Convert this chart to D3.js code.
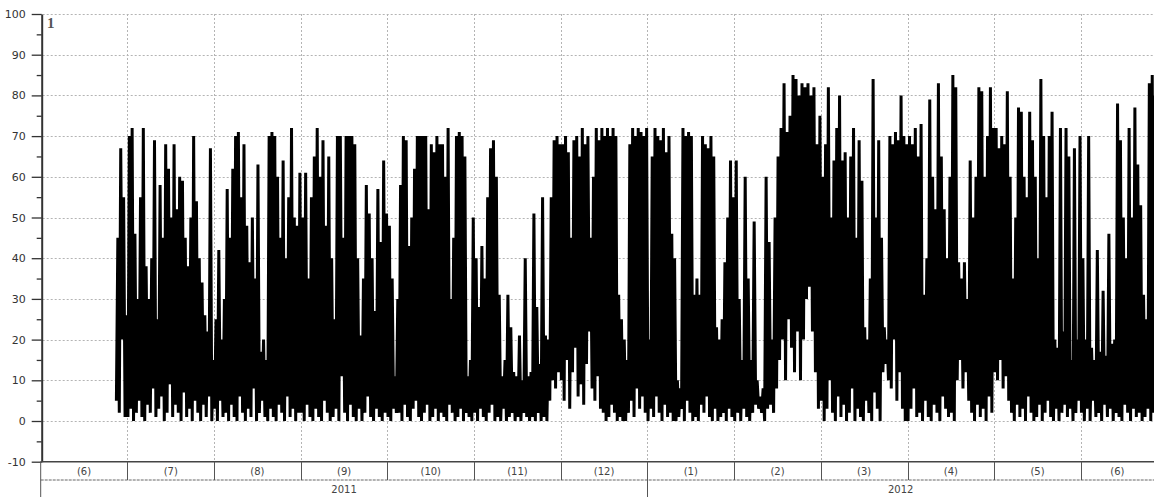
<!DOCTYPE html>
<html>
<head>
<meta charset="utf-8">
<script src="https://cdn.jsdelivr.net/npm/d3@7/dist/d3.min.js"></script>
<style>
  body { margin: 0; background: #fff; }
  svg { display: block; }
</style>
</head>
<body>
<svg id="chart" width="1154" height="497"></svg>
<script>
// Daily readings: one peak (hi) and one trough (lo) per day, month by month.
const jun11Hi = [45, 67, 55, 26];
const jun11Lo = [5, 2, 20, 1];
const jul11Hi = [70, 72, 46, 30, 55, 72, 38, 30, 40, 69, 25, 58, 45, 68, 62, 50, 68, 52, 60, 59, 45, 38, 50, 70, 54, 40, 34, 26, 22, 67, 15];
const jul11Lo = [1, 3, 0, 2, 5, 1, 0, 4, 2, 8, 1, 3, 6, 0, 2, 9, 1, 4, 2, 0, 7, 1, 3, 0, 5, 2, 0, 4, 1, 6, 0];
const aug11Hi = [25, 42, 20, 30, 57, 45, 62, 70, 71, 55, 68, 48, 39, 50, 35, 63, 17, 20, 15, 70, 71, 70, 60, 45, 64, 40, 55, 72, 50, 48, 61];
const aug11Lo = [3, 0, 5, 1, 2, 0, 4, 1, 0, 6, 2, 0, 3, 1, 8, 0, 2, 5, 1, 0, 3, 1, 0, 4, 2, 0, 6, 1, 3, 0, 2];
const sep11Hi = [50, 61, 35, 55, 65, 72, 60, 69, 48, 65, 40, 25, 70, 70, 45, 70, 70, 70, 68, 40, 21, 35, 58, 51, 40, 27, 57, 44, 64, 51];
const sep11Lo = [2, 0, 4, 1, 0, 3, 1, 0, 5, 2, 0, 1, 3, 0, 11, 2, 0, 4, 1, 0, 3, 0, 2, 6, 1, 0, 3, 1, 0, 2];
const oct11Hi = [48, 35, 11, 30, 58, 70, 69, 43, 50, 62, 70, 70, 70, 70, 52, 68, 66, 70, 68, 68, 60, 72, 30, 45, 70, 71, 70, 65, 11, 15, 50];
const oct11Lo = [1, 0, 3, 2, 2, 0, 4, 1, 0, 3, 5, 1, 0, 2, 4, 0, 1, 3, 0, 2, 1, 0, 4, 2, 0, 1, 3, 0, 2, 1, 0];
const nov11Hi = [40, 28, 43, 35, 55, 67, 69, 60, 31, 11, 15, 31, 23, 12, 11, 21, 10, 40, 11, 12, 51, 28, 14, 55, 21, 20, 55, 69, 70, 68];
const nov11Lo = [2, 0, 3, 1, 0, 2, 4, 0, 1, 0, 3, 0, 1, 2, 0, 1, 0, 2, 1, 0, 1, 0, 2, 0, 1, 0, 5, 10, 8, 12];
const dec11Hi = [68, 70, 66, 45, 69, 70, 65, 72, 68, 70, 45, 60, 72, 69, 72, 70, 72, 70, 72, 70, 31, 25, 20, 15, 68, 72, 70, 72, 71, 70, 72];
const dec11Lo = [10, 5, 15, 3, 12, 18, 6, 9, 4, 14, 22, 8, 5, 11, 3, 2, 0, 1, 4, 2, 0, 1, 0, 0, 2, 5, 1, 8, 3, 6, 2];
const jan12Hi = [20, 65, 72, 70, 69, 72, 66, 70, 46, 40, 10, 8, 72, 70, 71, 70, 31, 35, 31, 70, 68, 67, 70, 65, 23, 20, 25, 39, 50, 64, 55];
const jan12Lo = [0, 3, 1, 6, 2, 0, 4, 1, 2, 0, 0, 1, 3, 0, 5, 2, 0, 1, 0, 4, 2, 6, 1, 0, 3, 0, 1, 2, 0, 3, 1];
const feb12Hi = [64, 30, 15, 60, 35, 15, 49, 10, 6, 8, 60, 44, 20, 50, 65, 72, 83, 71, 75, 85, 84, 80, 83, 82, 83, 80, 82, 68, 75];
const feb12Lo = [0, 2, 0, 3, 1, 0, 2, 4, 3, 2, 0, 3, 4, 2, 8, 15, 20, 10, 25, 18, 12, 22, 10, 20, 30, 33, 22, 12, 3];
const mar12Hi = [60, 68, 82, 50, 64, 72, 80, 64, 66, 50, 65, 72, 45, 69, 59, 23, 20, 35, 84, 50, 69, 45, 23, 20, 70, 68, 71, 69, 80, 70, 68];
const mar12Lo = [5, 0, 3, 10, 2, 0, 6, 1, 4, 0, 2, 8, 0, 3, 1, 0, 5, 2, 0, 7, 3, 0, 12, 14, 10, 8, 20, 5, 12, 3, 0];
const apr12Hi = [70, 68, 72, 65, 73, 31, 40, 79, 60, 52, 83, 65, 52, 40, 60, 85, 82, 39, 35, 39, 30, 64, 50, 60, 82, 81, 60, 70, 82, 72];
const apr12Lo = [0, 3, 8, 1, 2, 0, 5, 1, 0, 4, 2, 0, 6, 3, 1, 2, 0, 10, 15, 8, 12, 5, 2, 0, 4, 1, 3, 0, 6, 2];
const may12Hi = [72, 67, 70, 68, 81, 60, 35, 50, 77, 76, 60, 55, 76, 69, 60, 40, 84, 70, 55, 70, 76, 20, 18, 72, 22, 72, 65, 15, 67, 20, 70];
const may12Lo = [12, 10, 15, 8, 11, 5, 2, 0, 4, 1, 3, 0, 6, 2, 0, 1, 4, 0, 2, 5, 1, 0, 3, 0, 2, 4, 1, 3, 0, 2, 5];
const jun12Hi = [40, 20, 70, 18, 15, 42, 17, 32, 16, 46, 19, 20, 78, 69, 50, 40, 72, 50, 77, 63, 53, 31, 25, 83, 85, 80];
const jun12Lo = [2, 0, 3, 0, 5, 1, 2, 0, 4, 1, 3, 0, 2, 1, 0, 4, 2, 0, 3, 1, 2, 0, 1, 3, 0, 2];

// Axis categories and ticks
const monthLabels = ["(6)", "(7)", "(8)", "(9)", "(10)", "(11)", "(12)", "(1)", "(2)", "(3)", "(4)", "(5)", "(6)"];
const yearLabels = ["2011", "2012"];
const yearMonthCounts = [7, 6];
const yTickValues = [-10, 0, 10, 20, 30, 40, 50, 60, 70, 80, 90, 100];
const yMinorTicks = [-5, 5, 15, 25, 35, 45, 55, 65, 75, 85, 95];

const months = [
  { year: 2011, month: 6, firstDay: 27, hi: jun11Hi, lo: jun11Lo },
  { year: 2011, month: 7, firstDay: 1, hi: jul11Hi, lo: jul11Lo },
  { year: 2011, month: 8, firstDay: 1, hi: aug11Hi, lo: aug11Lo },
  { year: 2011, month: 9, firstDay: 1, hi: sep11Hi, lo: sep11Lo },
  { year: 2011, month: 10, firstDay: 1, hi: oct11Hi, lo: oct11Lo },
  { year: 2011, month: 11, firstDay: 1, hi: nov11Hi, lo: nov11Lo },
  { year: 2011, month: 12, firstDay: 1, hi: dec11Hi, lo: dec11Lo },
  { year: 2012, month: 1, firstDay: 1, hi: jan12Hi, lo: jan12Lo },
  { year: 2012, month: 2, firstDay: 1, hi: feb12Hi, lo: feb12Lo },
  { year: 2012, month: 3, firstDay: 1, hi: mar12Hi, lo: mar12Lo },
  { year: 2012, month: 4, firstDay: 1, hi: apr12Hi, lo: apr12Lo },
  { year: 2012, month: 5, firstDay: 1, hi: may12Hi, lo: may12Lo },
  { year: 2012, month: 6, firstDay: 1, hi: jun12Hi, lo: jun12Lo }
];

// Series in "month units": month index + fraction of the month elapsed
const series = [];
months.forEach((m, i) => {
  const days = new Date(m.year, m.month, 0).getDate();
  m.hi.forEach((h, k) => {
    const day = m.firstDay + k;
    series.push({ t: i + (day - 1 + 0.2) / days, v: m.lo[k] });
    series.push({ t: i + (day - 1 + 0.7) / days, v: h });
  });
});

const W = 1154, H = 497;
const left = 40.7, monthWidth = 86.68;
const svg = d3.select("#chart");

const x = d3.scaleLinear().domain([0, monthLabels.length]).range([left, left + monthWidth * monthLabels.length]);
const y = d3.scaleLinear().domain([-10, 100]).range([461.7, 14]);
const xEnd = W;

// dotted grid
const grid = svg.append("g").attr("stroke", "#b4b4b4").attr("stroke-width", 1).attr("stroke-dasharray", "2,2");
grid.selectAll("line.h").data(yTickValues.filter(v => v > -10)).join("line")
  .attr("class", "h")
  .attr("x1", left + 2).attr("x2", xEnd)
  .attr("y1", d => Math.round(y(d)) + 0.5).attr("y2", d => Math.round(y(d)) + 0.5);
grid.selectAll("line.v").data(d3.range(1, monthLabels.length)).join("line")
  .attr("class", "v")
  .attr("x1", d => Math.round(x(d)) + 0.5).attr("x2", d => Math.round(x(d)) + 0.5)
  .attr("y1", y(100)).attr("y2", y(-10));

// data line
svg.append("clipPath").attr("id", "plotClip")
  .append("rect").attr("x", left).attr("y", 0).attr("width", xEnd - left).attr("height", y(-10));
const line = d3.line().x(d => x(d.t)).y(d => y(d.v));
svg.append("path")
  .datum(series)
  .attr("clip-path", "url(#plotClip)")
  .attr("fill", "none")
  .attr("stroke", "#000")
  .attr("stroke-width", 3)
  .attr("stroke-linejoin", "miter")
  .attr("stroke-miterlimit", 1.5)
  .attr("d", line);

// y axis
const yAxis = svg.append("g").attr("transform", `translate(${left + 1},0)`)
  .call(d3.axisLeft(y).tickValues(yTickValues).tickSize(10).tickSizeOuter(0).tickPadding(6).tickFormat(d => String(d)));
yAxis.select(".domain").attr("stroke", "#333").attr("stroke-width", 2);
yAxis.selectAll(".tick line").attr("stroke", "#333").attr("stroke-width", 1.3);
yAxis.selectAll(".tick text").attr("fill", "#333").style("font", "11px 'DejaVu Sans', sans-serif");
const yMinor = svg.append("g").attr("transform", `translate(${left + 1},0)`)
  .call(d3.axisLeft(y).tickValues(yMinorTicks).tickSize(5).tickSizeOuter(0).tickFormat(""));
yMinor.select(".domain").remove();
yMinor.selectAll(".tick line").attr("stroke", "#333").attr("stroke-width", 1.3);

// series marker near the top-left corner
svg.append("text").attr("x", 47).attr("y", 28)
  .attr("fill", "#555")
  .style("font", "bold 15px 'Liberation Serif', serif")
  .text("1");

// month / year table below the plot
const rowTop = y(-10), rowMid = 480, rowBottom = H;
const tbl = svg.append("g");
tbl.append("line").attr("x1", left).attr("x2", xEnd).attr("y1", rowTop).attr("y2", rowTop)
  .attr("stroke", "#444").attr("stroke-width", 1.5);
tbl.append("line").attr("x1", left).attr("x2", xEnd).attr("y1", rowMid).attr("y2", rowMid)
  .attr("stroke", "#666").attr("stroke-width", 1).attr("stroke-dasharray", "3,1");
tbl.append("line").attr("x1", left).attr("x2", left).attr("y1", rowTop).attr("y2", rowBottom)
  .attr("stroke", "#555").attr("stroke-width", 1);
tbl.selectAll("line.md").data(d3.range(1, monthLabels.length)).join("line")
  .attr("class", "md")
  .attr("x1", d => Math.round(x(d)) + 0.5).attr("x2", d => Math.round(x(d)) + 0.5)
  .attr("y1", rowTop).attr("y2", rowMid)
  .attr("stroke", "#555").attr("stroke-width", 1);
tbl.selectAll("text.m").data(monthLabels).join("text")
  .attr("class", "m")
  .attr("x", (d, i) => (x(i) + Math.min(x(i + 1), xEnd)) / 2)
  .attr("y", 475)
  .attr("text-anchor", "middle")
  .attr("fill", "#444")
  .style("font", "10px 'DejaVu Sans', sans-serif")
  .text(d => d);

const yearStarts = yearMonthCounts.map((c, i) => d3.sum(yearMonthCounts.slice(0, i)));
tbl.selectAll("line.yd").data(yearStarts.slice(1)).join("line")
  .attr("class", "yd")
  .attr("x1", d => Math.round(x(d)) + 0.5).attr("x2", d => Math.round(x(d)) + 0.5)
  .attr("y1", rowTop).attr("y2", rowBottom)
  .attr("stroke", "#555").attr("stroke-width", 1);
tbl.selectAll("text.y").data(yearLabels).join("text")
  .attr("class", "y")
  .attr("x", (d, i) => (x(yearStarts[i]) + Math.min(x(yearStarts[i] + yearMonthCounts[i]), xEnd)) / 2)
  .attr("y", 493)
  .attr("text-anchor", "middle")
  .attr("fill", "#444")
  .style("font", "10px 'DejaVu Sans', sans-serif")
  .text(d => d);
</script>
</body>
</html>
